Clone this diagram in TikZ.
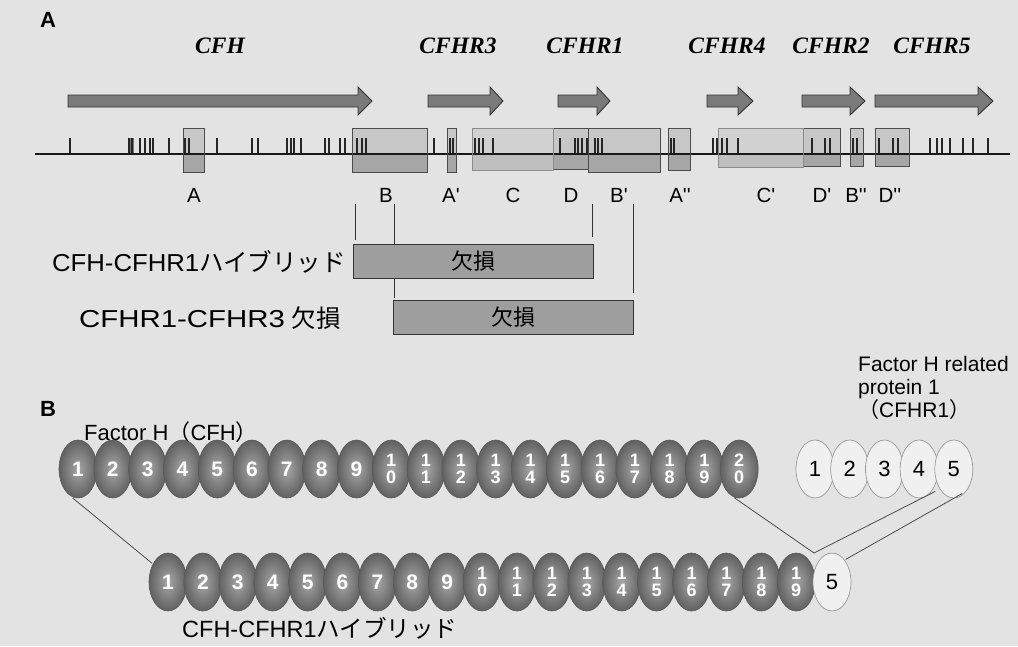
\documentclass[tikz,border=0pt]{standalone}
\usepackage{fontspec}
\usepackage{graphicx}
\setmainfont{Liberation Sans}[Ligatures=TeXOff]
\newfontfamily\jp{Noto Sans CJK JP}
\newfontfamily\genefont{Liberation Serif}[Ligatures=TeXOff]
\usetikzlibrary{shapes.geometric}
\tikzset{
  lbl/.style={inner sep=0pt, font=\fontsize{20.5}{24}\selectfont},
  biglbl/.style={inner sep=0pt, font=\fontsize{23.5}{26}\selectfont},
  leftlbl/.style={inner sep=0pt, font=\fontsize{24.5}{26}\selectfont},
  bigl/.style={inner sep=0pt, font=\bfseries\fontsize{22}{24}\selectfont},
  genelbl/.style={inner sep=0pt, font=\genefont\bfseries\itshape\fontsize{23.5}{26}\selectfont},
  genearrow/.style={fill=black!52, draw=black!80, line width=0.9pt, line join=miter},
  tickmark/.style={line width=1.3pt, black!85},
  regup/.style={fill=black!22},
  reglow/.style={fill=black!35},
  regupl/.style={fill=black!18},
  reglowl/.style={fill=black!25},
  regline/.style={draw=black!70, line width=0.8pt},
  reglinel/.style={draw=black!45, line width=0.8pt},
  bracket/.style={line width=0.9pt, black!80},
  delbox/.style={draw=black!80, fill=black!38, line width=0.9pt, minimum width=240pt, minimum height=34pt, inner sep=0pt, font=\jp\fontsize{22}{24}\selectfont},
  bead/.style={ellipse, minimum width=38pt, minimum height=58pt, inner sep=0pt, draw=black!65, line width=0.6pt, shading=radial, inner color=black!35, outer color=black!62, text=white, font=\bfseries\fontsize{21}{21}\selectfont, align=center},
  beadtwo/.style={bead, font=\bfseries\fontsize{18}{16.5}\selectfont},
  lbead/.style={ellipse, minimum width=38pt, minimum height=58pt, inner sep=0pt, draw=black!40, line width=0.7pt, fill=black!6, text=black, font=\fontsize{22}{22}\selectfont},
  conn/.style={line width=0.8pt, black!70},
}
\begin{document}
\begin{tikzpicture}[x=1pt,y=-1pt]
\useasboundingbox (0,0) rectangle (1018,646);
\fill[black!11] (0,0) rectangle (1018,646);

% ---------- Part A ----------
\node[bigl] (labA) at (48,20) {A};

\node[genelbl] (gCFH)   at (220,46) {CFH};
\node[genelbl] (gCFHR3) at (458,46) {CFHR3};
\node[genelbl] (gCFHR1) at (585,46) {CFHR1};
\node[genelbl] (gCFHR4) at (727,46) {CFHR4};
\node[genelbl] (gCFHR2) at (831,46) {CFHR2};
\node[genelbl] (gCFHR5) at (932,46) {CFHR5};

\foreach \a/\h/\b in {68/358/372, 428/490/503, 558/597/610, 707/738/753, 802/850/865, 875/978/993}{
  \draw[genearrow] (\a,95) -- (\h,95) -- (\h,87) -- (\b,101) -- (\h,115) -- (\h,107) -- (\a,107) -- cycle;
}

% region boxes (fills)
\foreach \a/\b/\c in {183/204/172, 352/427/172, 447/456/172, 553/588/169, 588/660/172, 668/690/170, 803/840/166, 850/863/166, 875/909/166}{
  \fill[regup] (\a,128) rectangle (\b,154);
  \fill[reglow] (\a,154) rectangle (\b,\c);
}
\foreach \a/\b/\c in {472/553/170, 718/803/167}{
  \fill[regupl] (\a,128) rectangle (\b,154);
  \fill[reglowl] (\a,154) rectangle (\b,\c);
}

% genomic line and ticks
\fill[black!55] (128,138) rectangle (134,154);
\foreach \x in {70,129,132,140,145,150,153,169,185,189,217,252,258,287,291,294,301,325,329,340,345,357,362,366,434,450,453,475,479,483,493,560,575,578,582,587,595,598,602,671,674,713,717,722,727,738,812,825,830,853,857,879,893,898,930,937,942,950,963,973,988}{
  \draw[tickmark] (\x,138) -- (\x,154);
}
\draw[line width=1.6pt, black!90] (35,154) -- (1010,154);

% region box outlines
\foreach \a/\b/\c in {183/204/172, 352/427/172, 447/456/172, 553/588/169, 588/660/172, 668/690/170, 803/840/166, 850/863/166, 875/909/166}{
  \draw[regline] (\a,128) rectangle (\b,\c);
}
\foreach \a/\b/\c in {472/553/170, 718/803/167}{
  \draw[reglinel] (\a,128) rectangle (\b,\c);
}

% region labels
\foreach \x/\t [count=\i] in {194/A, 386/B, 451/A', 513/C, 571/D, 619/B', 680/A'', 766/C', 822/D', 856/B'', 890/D''}{
  \node[lbl] (r\i) at (\x,195) {\t};
}

% bracket lines
\coordinate (k1) at (355,204);
\coordinate (k2) at (394,204);
\coordinate (k3) at (592,204);
\coordinate (k4) at (633,204);
\coordinate (k1e) at (355,240);
\coordinate (k2e) at (394,298);
\coordinate (k3e) at (592,237);
\coordinate (k4e) at (633,293);
\draw[bracket] (k1) -- (k1e);
\draw[bracket] (k2) -- (k2e);
\draw[bracket] (k3) -- (k3e);
\draw[bracket] (k4) -- (k4e);

% deletion boxes
\node[delbox] (del1) at (473,261) {欠損};
\node[delbox] (del2) at (513,317) {欠損};

\node[leftlbl, anchor=east] (hyb) at (346,262) {\scalebox{1.05}[1]{CFH-CFHR1}{\jp ハイブリッド}};
\node[leftlbl, anchor=east] (dl) at (341,318) {\scalebox{1.2}[1]{CFHR1-CFHR3} {\jp 欠損}};

% ---------- Part B ----------
\node[bigl] (labB) at (48,409) {B};
\node[biglbl, anchor=west, font=\fontsize{22}{24}\selectfont] (fh) at (84,432) {Factor H{\jp （}CFH{\jp ）}};
\node[lbl, anchor=west, align=left, font=\fontsize{21}{23}\selectfont] (fhr) at (858,388) {Factor H related\\protein 1\\{\jp （}CFHR1{\jp ）}};

% top row CFH
\foreach \i in {1,...,9}{
  \node[bead] (t\i) at ({78+(\i-1)*34.8},469) {\i};
}
\foreach \i in {10,...,20}{
  \pgfmathtruncatemacro\da{\i/10}
  \pgfmathtruncatemacro\db{mod(\i,10)}
  \node[beadtwo] (t\i) at ({78+(\i-1)*34.8},469) {\da\\\db};
}
% CFHR1
\foreach \i in {1,...,5}{
  \node[lbead] (c\i) at ({815+(\i-1)*34.7},469) {\i};
}
% bottom row hybrid
\foreach \i in {1,...,9}{
  \node[bead] (h\i) at ({168+(\i-1)*34.9},582) {\i};
}
\foreach \i in {10,...,19}{
  \pgfmathtruncatemacro\da{\i/10}
  \pgfmathtruncatemacro\db{mod(\i,10)}
  \node[beadtwo] (h\i) at ({168+(\i-1)*34.9},582) {\da\\\db};
}
\node[lbead] (h20) at (832,582) {5};

\node[biglbl, anchor=west] (hybB) at (182,628) {CFH-CFHR1{\jp ハイブリッド}};

% connectors
\coordinate (j) at (814,553);
\draw[conn, shorten <=5pt, shorten >=1pt] (t1.250) -- (h1.130);
\draw[conn, shorten <=5pt] (t20.250) -- (j);
\draw[conn, shorten >=5pt] (j) -- (c5.235);
\draw[conn, shorten <=1pt, shorten >=5pt] (h20.60) -- (c5.300);
\end{tikzpicture}
\end{document}
